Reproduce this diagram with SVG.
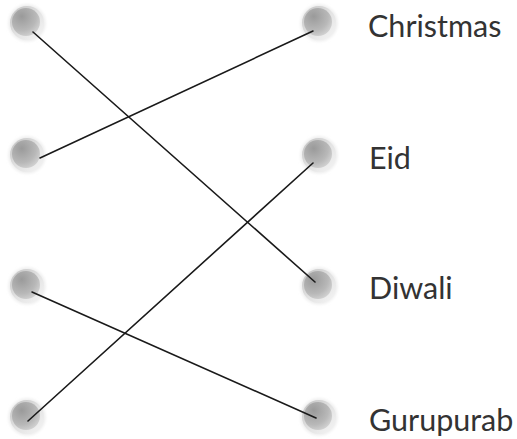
<svg xmlns="http://www.w3.org/2000/svg" width="517" height="439" viewBox="0 0 517 439">
<style>
.lbl{font-family:Lato,"Open Sans","Liberation Sans",sans-serif;font-size:30.5px;fill:#333}
.ln{stroke:#1a1a1a;stroke-width:1.6;fill:none;stroke-linecap:round}
</style>
<defs>
<linearGradient id="rim" x1="0" y1="0" x2="1" y2="1">
<stop offset="0" stop-color="#c0c0c0"/>
<stop offset="0.5" stop-color="#e2e2e2"/>
<stop offset="1" stop-color="#f6f6f6"/>
</linearGradient>
<radialGradient id="core" cx="0.35" cy="0.3" r="0.85">
<stop offset="0" stop-color="#9a9a9a"/>
<stop offset="0.6" stop-color="#b8b8b8"/>
<stop offset="1" stop-color="#dcdcdc"/>
</radialGradient>
<filter id="soft" x="-30%" y="-30%" width="160%" height="160%">
<feGaussianBlur stdDeviation="1.5"/>
</filter>
<g id="ball">
<circle r="18.5" fill="#ececec" filter="url(#soft)"/>
<circle r="17" fill="url(#rim)"/>
<circle r="14" cx="-1" cy="-1" fill="url(#core)"/>
</g>
</defs>
<g id="left-1"><use href="#ball" x="27" y="23"/></g>
<g id="left-2"><use href="#ball" x="27" y="155"/></g>
<g id="left-3"><use href="#ball" x="27" y="286"/></g>
<g id="left-4"><use href="#ball" x="27" y="417"/></g>
<g id="christmas"><use href="#ball" x="319" y="23"/><text class="lbl" x="368" y="37">Christmas</text></g>
<g id="eid"><use href="#ball" x="319" y="155"/><text class="lbl" x="369" y="169">Eid</text></g>
<g id="diwali"><use href="#ball" x="319" y="286"/><text class="lbl" x="369" y="299">Diwali</text></g>
<g id="gurupurab"><use href="#ball" x="319" y="417"/><text class="lbl" x="369" y="431">Gurupurab</text></g>
<g id="connectors">
<line class="ln" x1="33" y1="32" x2="315" y2="282"/>
<line class="ln" x1="40" y1="158" x2="313" y2="31"/>
<line class="ln" x1="32" y1="292" x2="316" y2="418"/>
<line class="ln" x1="28" y1="421" x2="313" y2="163"/>
</g>
</svg>
